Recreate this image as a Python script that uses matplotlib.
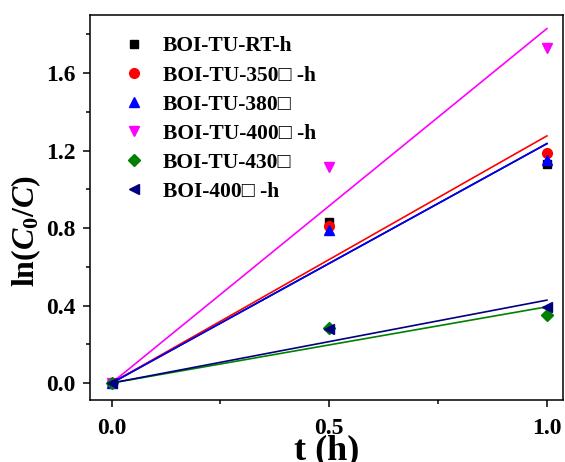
import matplotlib
matplotlib.use('Agg')
import matplotlib.pyplot as plt
import numpy as np
from matplotlib.ticker import MultipleLocator

plt.rcParams['font.family'] = ['Liberation Serif', 'DejaVu Serif']
plt.rcParams['font.weight'] = 'bold'
plt.rcParams['mathtext.fontset'] = 'custom'
plt.rcParams['mathtext.rm'] = 'Liberation Serif:bold'
plt.rcParams['mathtext.it'] = 'Liberation Serif:bold:italic'
plt.rcParams['mathtext.bf'] = 'Liberation Serif:bold'

# time points (h)
t = [0.0, 0.5, 1.0]

# ln(C0/C) for each sample
labels = ['BOI-TU-RT-h', 'BOI-TU-350\u25a1 -h', 'BOI-TU-380\u25a1',
          'BOI-TU-400\u25a1 -h', 'BOI-TU-430\u25a1', 'BOI-400\u25a1 -h']
rt_h = [0.0, 0.83, 1.13]
tu350_h = [0.0, 0.81, 1.19]
tu380 = [0.0, 0.79, 1.15]
tu400_h = [0.0, 1.115, 1.73]
tu430 = [0.0, 0.284, 0.35]
boi400_h = [0.0, 0.28, 0.395]

series = [rt_h, tu350_h, tu380, tu400_h, tu430, boi400_h]
colors = ['black', 'red', 'blue', 'magenta', 'green', 'navy']
markers = ['s', 'o', '^', 'v', 'D', '<']
msizes = [6, 7, 7, 7, 6, 7]

fig = plt.figure(figsize=(5.65, 4.62), dpi=100)
ax = fig.add_axes([0.159, 0.134, 0.8375, 0.8335])

x = np.array(t)
# fitted lines through the origin (first-order kinetics)
order = [0, 1, 3, 2, 4, 5]
for i in order:
    y = np.array(series[i])
    k = np.sum(x * y) / np.sum(x * x)
    ax.plot([x[0], x[-1]], [0, k * x[-1]], color=colors[i], lw=1.2, zorder=2)

for i, y in enumerate(series):
    ax.plot(t, y, linestyle='none', marker=markers[i], color=colors[i],
            markersize=msizes[i], label=labels[i], zorder=3)

ax.set_xlim(-0.05, 1.037)
ax.set_ylim(-0.088, 1.90)
ax.xaxis.set_major_locator(MultipleLocator(0.5))
ax.xaxis.set_minor_locator(MultipleLocator(0.25))
ax.yaxis.set_major_locator(MultipleLocator(0.4))
ax.yaxis.set_minor_locator(MultipleLocator(0.2))
ax.tick_params(which='both', direction='out', width=1.1, top=False, right=False)
ax.tick_params(which='major', length=5)
ax.tick_params(which='minor', length=3)
ax.tick_params(axis='x', labelsize=17, pad=8)
ax.tick_params(axis='y', labelsize=17, pad=5)
ax.xaxis.set_major_formatter(matplotlib.ticker.FormatStrFormatter('%.1f'))
ax.yaxis.set_major_formatter(matplotlib.ticker.FormatStrFormatter('%.1f'))
for s in ax.spines.values():
    s.set_linewidth(1.1)

ax.set_xlabel('t (h)', fontsize=26, fontweight='bold')
ax.xaxis.set_label_coords(0.5, -0.088)
ax.set_ylabel('ln($C_0$/$C$)', fontsize=23, fontweight='bold')
ax.yaxis.set_label_coords(-0.10, 0.44)

ax.legend(loc='upper left', frameon=False, fontsize=15.5, handletextpad=0.6,
          labelspacing=0.42, borderaxespad=0.0, bbox_to_anchor=(0.04, 0.967),
          handlelength=1.5)

fig.savefig('out.png', dpi=100)
